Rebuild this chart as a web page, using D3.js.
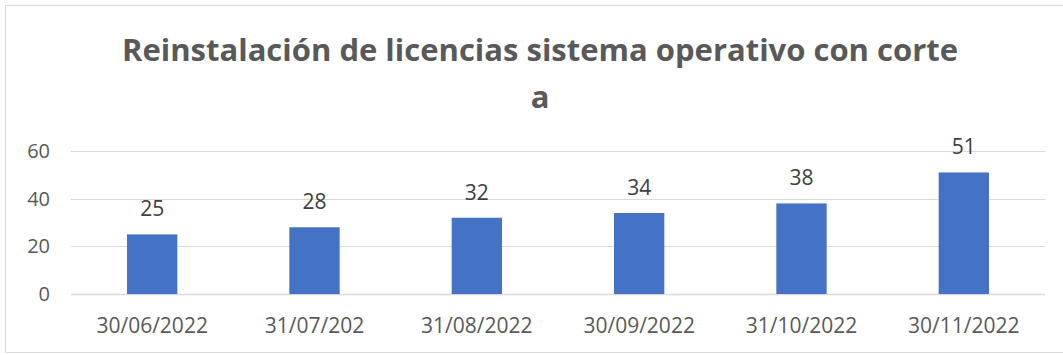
<!DOCTYPE html>
<html>
<head>
<meta charset="utf-8">
<script src="https://cdn.jsdelivr.net/npm/d3@7"></script>
<style>
  html, body { margin: 0; padding: 0; background: #fff; }
  svg { display: block; }
</style>
</head>
<body>
<div id="chart"></div>
<script>
// Chart data
const categories = ["30/06/2022", "31/07/202", "31/08/2022", "30/09/2022", "31/10/2022", "30/11/2022"];
const values = [25, 28, 32, 34, 38, 51];
const yTicks = [0, 20, 40, 60];
const titleLines = ["Reinstalación de licencias sistema operativo con corte", "a"];

const W = 1063, H = 355;
const margin = { top: 151, right: 18, bottom: 61, left: 71 };
const FONT = "'Open Sans', 'Noto Sans', sans-serif";

const svg = d3.select("#chart").append("svg")
  .attr("width", W).attr("height", H);

// Outer frame
svg.append("rect")
  .attr("x", 5.5).attr("y", 5.5)
  .attr("width", W + 10).attr("height", H - 8)
  .attr("fill", "#fff").attr("stroke", "#d9d9d9").attr("stroke-width", 1);

const x = d3.scaleBand()
  .domain(categories)
  .range([margin.left, W - margin.right])
  .paddingInner(0.69).paddingOuter(0.345);

const y = d3.scaleLinear()
  .domain([0, 60])
  .range([H - margin.bottom, margin.top]);

// Gridlines
svg.append("g")
  .selectAll("line")
  .data(yTicks)
  .join("line")
  .attr("x1", margin.left).attr("x2", W - margin.right)
  .attr("y1", d => Math.round(y(d)) + 0.5).attr("y2", d => Math.round(y(d)) + 0.5)
  .attr("stroke", "#d9d9d9").attr("stroke-width", d => d === 0 ? 1.5 : 1);

// Y axis labels
const yAxis = d3.axisLeft(y).tickValues(yTicks).tickSize(0).tickPadding(0);
const gy = svg.append("g")
  .attr("transform", `translate(${margin.left - 21},0)`)
  .call(yAxis);
gy.select(".domain").remove();
gy.selectAll("text")
  .attr("font-family", FONT)
  .attr("font-size", 20).attr("fill", "#595959");

// X axis labels
const xAxis = d3.axisBottom(x).tickSize(0).tickPadding(0);
const gx = svg.append("g")
  .attr("transform", `translate(0,${H - margin.bottom + 24})`)
  .call(xAxis);
gx.select(".domain").remove();
gx.selectAll("text")
  .attr("font-family", FONT)
  .attr("font-size", 21).attr("fill", "#595959");

// Bars
svg.append("g")
  .selectAll("rect")
  .data(values)
  .join("rect")
  .attr("x", (d, i) => x(categories[i]))
  .attr("width", x.bandwidth())
  .attr("y", d => y(d))
  .attr("height", d => y(0) - y(d))
  .attr("fill", "#4472c4");

// Value labels
svg.append("g")
  .selectAll("text")
  .data(values)
  .join("text")
  .attr("x", (d, i) => x(categories[i]) + x.bandwidth() / 2)
  .attr("y", d => y(d) - 18)
  .attr("text-anchor", "middle")
  .attr("font-family", FONT)
  .attr("font-size", 21).attr("fill", "#404040")
  .text(d => d);

// Title
svg.append("g")
  .selectAll("text")
  .data(titleLines)
  .join("text")
  .attr("x", 540)
  .attr("y", (d, i) => 61 + i * 47)
  .attr("text-anchor", "middle")
  .attr("font-family", FONT)
  .attr("font-weight", "bold")
  .attr("font-size", 31)
  .attr("fill", "#595959")
  .text(d => d);
</script>
</body>
</html>
